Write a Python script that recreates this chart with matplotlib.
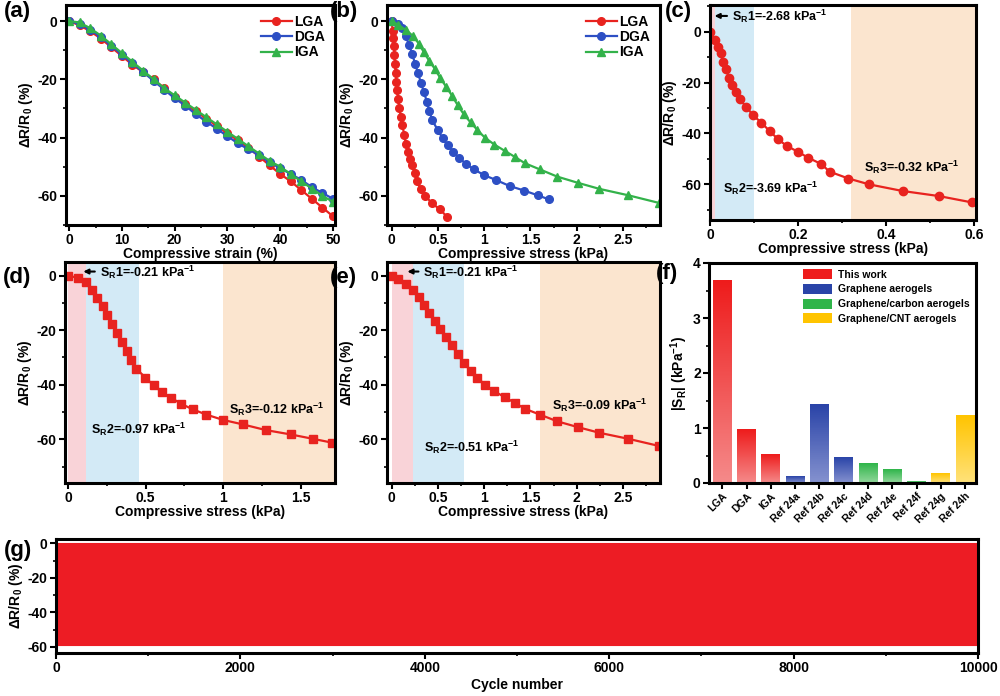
import numpy as np
import matplotlib
matplotlib.use("Agg")
import matplotlib.pyplot as plt
from matplotlib.colors import LinearSegmentedColormap
from matplotlib.patches import Patch
from matplotlib.ticker import MultipleLocator

plt.rcParams['font.family'] = ['Liberation Sans', 'DejaVu Sans']
plt.rcParams['font.weight'] = 'bold'
plt.rcParams['axes.labelweight'] = 'bold'
plt.rcParams['axes.unicode_minus'] = False
plt.rcParams['font.size'] = 10
plt.rcParams['mathtext.fontset'] = 'custom'
plt.rcParams['mathtext.rm'] = 'Liberation Sans:bold'
plt.rcParams['mathtext.bf'] = 'Liberation Sans:bold'
plt.rcParams['mathtext.it'] = 'Liberation Sans:bold'
plt.rcParams['mathtext.default'] = 'bf'

RED = '#e8231f'; BLUE = '#2d4fc4'; GREEN = '#33b24a'

# (a) strain response
strain = [0, 2, 4, 6, 8, 10, 12, 14, 16, 18, 20, 22, 24, 26, 28, 30, 32, 34, 36, 38, 40, 42, 44, 46, 48, 50]
lga_strain = [0, -1.5, -3.5, -6, -9, -12, -15, -17.5, -20, -23, -26, -28.5, -31, -33.5, -36, -38.5,
              -41, -43.5, -46.5, -49.5, -52.5, -55, -58, -61, -64, -67]
dga_strain = [0, -1, -3, -5.5, -8.5, -11.5, -14.5, -17.5, -20.5, -23.5, -26.5, -29, -32, -34.5, -37,
              -39.5, -42, -44, -46, -48.5, -50.5, -52.5, -54.5, -57, -59, -61]
iga_strain = [0, -0.5, -2.5, -5, -8, -11, -14, -17, -20, -23, -25.5, -28, -30.5, -33, -35.5, -38,
              -40.5, -43, -45.5, -48, -50, -52.5, -55, -57.5, -60, -62]

# stress response (kPa, %)
lga_x = [0, 0.011, 0.019, 0.024, 0.030, 0.036, 0.043, 0.051, 0.060, 0.068, 0.083, 0.098, 0.117, 0.136,
         0.155, 0.174, 0.200, 0.223, 0.253, 0.272, 0.315, 0.362, 0.438, 0.521, 0.596]
lga_y = [0, -3.3, -5.9, -8.5, -11.8, -14.8, -18.0, -21.0, -23.6, -26.6, -29.7, -32.8, -35.8, -39.1,
         -42.3, -44.8, -47.2, -49.5, -52.0, -55.0, -57.7, -60.0, -62.6, -64.6, -67.1]
dga_x = [0, 0.066, 0.115, 0.152, 0.188, 0.222, 0.252, 0.286, 0.316, 0.35, 0.38, 0.408, 0.44, 0.498,
         0.551, 0.605, 0.665, 0.729, 0.803, 0.889, 1.0, 1.124, 1.274, 1.434, 1.577, 1.70]
dga_y = [0, -0.85, -2.3, -5.1, -8.2, -11.2, -14.6, -17.9, -21.2, -24.4, -27.7, -31.0, -34.1, -37.4,
         -40.2, -42.7, -44.8, -47.0, -49.0, -50.9, -52.9, -54.5, -56.6, -58.2, -59.8, -61.2]
iga_x = [0, 0.066, 0.15, 0.23, 0.297, 0.348, 0.407, 0.469, 0.524, 0.59, 0.652, 0.714, 0.78, 0.853,
         0.927, 1.007, 1.11, 1.22, 1.33, 1.44, 1.60, 1.79, 2.01, 2.245, 2.557, 2.886]
iga_y = [0, -1.2, -3.0, -5.1, -7.9, -10.7, -13.7, -16.5, -19.5, -22.6, -25.6, -28.9, -32.0, -34.8,
         -37.4, -40.0, -42.4, -44.5, -46.6, -48.8, -50.9, -53.4, -55.5, -57.6, -59.8, -62.4]

# (f) sensitivity comparison
bar_labels = ['LGA', 'DGA', 'IGA', 'Ref 24a', 'Ref 24b', 'Ref 24c', 'Ref 24d', 'Ref 24e', 'Ref 24f', 'Ref 24g', 'Ref 24h']
bar_values = [3.69, 0.97, 0.51, 0.12, 1.43, 0.46, 0.35, 0.25, 0.02, 0.17, 1.22]
bar_group = [0, 0, 0, 1, 1, 1, 2, 2, 2, 3, 3]
group_names = ['This work', 'Graphene aerogels', 'Graphene/carbon aerogels', 'Graphene/CNT aerogels']
group_top = ['#ee1c1c', '#2a44a8', '#2fb54a', '#ffc400']
group_bot = ['#f58a8a', '#8592cf', '#93d79c', '#ffe27a']

# (g) cycling
cycles = [0, 10000]
cyc_hi = [0, 0]
cyc_lo = [-59, -59]

W, H = 1000, 696
fig = plt.figure(figsize=(W / 100, H / 100), dpi=100)


def make_ax(l, t, r, b):
    ax = fig.add_axes([l / W, 1 - b / H, (r - l) / W, (b - t) / H])
    for s in ax.spines.values():
        s.set_linewidth(2.2)
    ax.tick_params(which='major', direction='out', length=4, width=1.5, labelsize=10, pad=2)
    ax.tick_params(which='minor', direction='out', length=2.5, width=1.2)
    return ax


def boldticks(ax):
    for t in ax.get_xticklabels() + ax.get_yticklabels():
        t.set_fontweight('bold')


def ylab(ax):
    ax.set_ylabel(r'ΔR/R$_0$ (%)', labelpad=2, fontweight='bold')


def panel(ax, txt, dx=-0.2, dy=0.97):
    ax.text(dx, dy, txt, transform=ax.transAxes, fontsize=16, fontweight='bold', va='center', ha='left')


def curve(ax, x, y, c, m, lab=None, ms=5.5):
    ax.plot(x, y, color=c, marker=m, markersize=ms, lw=1.6, label=lab)


def fmt(v, p):
    return f'{v:g}'


# (a)
ax = make_ax(66, 5, 335, 225)
curve(ax, strain, lga_strain, RED, 'o', 'LGA')
curve(ax, strain, dga_strain, BLUE, 'o', 'DGA')
curve(ax, strain, iga_strain, GREEN, '^', 'IGA')
ax.set_xlim(-0.6, 50.4); ax.set_ylim(-70, 5.5)
ax.xaxis.set_major_locator(MultipleLocator(10)); ax.xaxis.set_minor_locator(MultipleLocator(5))
ax.yaxis.set_major_locator(MultipleLocator(20)); ax.yaxis.set_minor_locator(MultipleLocator(10))
ax.set_xlabel('Compressive strain (%)', labelpad=0, fontweight='bold')
ylab(ax)
ax.legend(loc='upper right', frameon=False, fontsize=10, handlelength=2.2, handletextpad=0.2,
          labelspacing=0.1, borderaxespad=0.3)
panel(ax, '(a)', -0.23)
boldticks(ax)

# (b)
ax = make_ax(387, 5, 660, 225)
curve(ax, lga_x, lga_y, RED, 'o', 'LGA')
curve(ax, dga_x, dga_y, BLUE, 'o', 'DGA')
curve(ax, iga_x, iga_y, GREEN, '^', 'IGA')
ax.set_xlim(-0.05, 2.9); ax.set_ylim(-70, 5.5)
ax.xaxis.set_major_locator(MultipleLocator(0.5)); ax.xaxis.set_minor_locator(MultipleLocator(0.25))
ax.xaxis.set_major_formatter(plt.FuncFormatter(fmt))
ax.yaxis.set_major_locator(MultipleLocator(20)); ax.yaxis.set_minor_locator(MultipleLocator(10))
ax.set_xlabel('Compressive stress (kPa)', labelpad=0, fontweight='bold')
ylab(ax)
ax.legend(loc='upper right', frameon=False, fontsize=10, handlelength=2.2, handletextpad=0.2,
          labelspacing=0.1, borderaxespad=0.3)
panel(ax, '(b)', -0.21)
boldticks(ax)


def regions(ax, r1, r2, r3, xmax):
    ax.axvspan(0, r1, color='#f9d3d8', lw=0, zorder=0)
    ax.axvspan(r1, r2, color='#d3eaf6', lw=0, zorder=0)
    ax.axvspan(r3, xmax, color='#fbe5cf', lw=0, zorder=0)


def note(ax, x, y, num, val):
    ax.text(x, y, r'S$_R$' + f'{num}=-{val} kPa' + r'$^{-1}$', fontsize=9, fontweight='bold', va='center')


def arrow(ax, x0, x1, y):
    ax.annotate('', xy=(x1, y), xytext=(x0, y),
                arrowprops=dict(arrowstyle='-|>', color='black', lw=1.5, mutation_scale=7))


# (c)
ax = make_ax(710, 5, 976, 220)
regions(ax, 0.012, 0.1, 0.32, 0.605)
curve(ax, lga_x, lga_y, RED, 'o', ms=6)
ax.set_xlim(0, 0.605); ax.set_ylim(-74, 10.5)
ax.xaxis.set_major_locator(MultipleLocator(0.2)); ax.xaxis.set_minor_locator(MultipleLocator(0.1))
ax.xaxis.set_major_formatter(plt.FuncFormatter(fmt))
ax.yaxis.set_major_locator(MultipleLocator(20)); ax.yaxis.set_minor_locator(MultipleLocator(10))
ax.set_xlabel('Compressive stress (kPa)', labelpad=0, fontweight='bold')
ylab(ax)
arrow(ax, 0.045, 0.004, 6.2)
note(ax, 0.05, 6.2, 1, '2.68')
note(ax, 0.03, -61.5, 2, '3.69')
note(ax, 0.35, -53.5, 3, '0.32')
panel(ax, '(c)', -0.17)
boldticks(ax)

# (d)
ax = make_ax(65, 262, 335, 483)
regions(ax, 0.115, 0.46, 1.0, 1.72)
curve(ax, dga_x, dga_y, RED, 's', ms=5.5)
ax.set_xlim(-0.02, 1.72); ax.set_ylim(-76, 5)
ax.xaxis.set_major_locator(MultipleLocator(0.5)); ax.xaxis.set_minor_locator(MultipleLocator(0.25))
ax.xaxis.set_major_formatter(plt.FuncFormatter(fmt))
ax.yaxis.set_major_locator(MultipleLocator(20)); ax.yaxis.set_minor_locator(MultipleLocator(10))
ax.set_xlabel('Compressive stress (kPa)', labelpad=0, fontweight='bold')
ylab(ax)
arrow(ax, 0.19, 0.08, 1.5)
note(ax, 0.205, 1.3, 1, '0.21')
note(ax, 0.15, -56.5, 2, '0.97')
note(ax, 1.04, -49, 3, '0.12')
panel(ax, '(d)', -0.23, 0.93)
boldticks(ax)

# (e)
ax = make_ax(387, 262, 660, 483)
regions(ax, 0.23, 0.78, 1.6, 2.9)
curve(ax, iga_x, iga_y, RED, 's', ms=5.5)
ax.set_xlim(-0.05, 2.9); ax.set_ylim(-76, 5)
ax.xaxis.set_major_locator(MultipleLocator(0.5)); ax.xaxis.set_minor_locator(MultipleLocator(0.25))
ax.xaxis.set_major_formatter(plt.FuncFormatter(fmt))
ax.yaxis.set_major_locator(MultipleLocator(20)); ax.yaxis.set_minor_locator(MultipleLocator(10))
ax.set_xlabel('Compressive stress (kPa)', labelpad=0, fontweight='bold')
ylab(ax)
arrow(ax, 0.32, 0.14, 1.5)
note(ax, 0.34, 1.3, 1, '0.21')
note(ax, 0.35, -63, 2, '0.51')
note(ax, 1.73, -47.5, 3, '0.09')
panel(ax, '(e)', -0.21, 0.93)
boldticks(ax)

# (f)
ax = make_ax(709, 263, 976, 483)
bw = 0.78
grad = np.linspace(0, 1, 100).reshape(-1, 1)
for i, (v, g) in enumerate(zip(bar_values, bar_group)):
    cmap = LinearSegmentedColormap.from_list('g%d' % g, [group_bot[g], group_top[g]])
    ax.imshow(grad, extent=[i - bw / 2, i + bw / 2, 0, v], origin='lower', cmap=cmap,
              aspect='auto', zorder=2)
ax.set_xlim(-0.55, 10.45); ax.set_ylim(0, 4)
ax.set_xticks(range(len(bar_labels)))
ax.set_xticklabels(bar_labels, rotation=45, ha='right', fontsize=7.5, rotation_mode='anchor')
ax.yaxis.set_major_locator(MultipleLocator(1)); ax.yaxis.set_minor_locator(MultipleLocator(0.5))
ax.set_ylabel(r'|S$_R$| (kPa$^{-1}$)', labelpad=2, fontweight='bold')
handles = [Patch(facecolor=c, edgecolor='none') for c in group_top]
ax.legend(handles, group_names, loc='upper right', frameon=False, fontsize=7.5, handlelength=2.8,
          handleheight=1.1, labelspacing=0.4, borderaxespad=0.2, handletextpad=0.6)
panel(ax, '(f)', -0.2, 0.95)
boldticks(ax)

# (g)
ax = make_ax(56, 539, 978, 653)
ax.fill_between(cycles, cyc_lo, cyc_hi, color='#ed1c24', lw=0.8, edgecolor='#ed1c24')
ax.set_xlim(0, 10000); ax.set_ylim(-63.5, 2.5)
ax.xaxis.set_major_locator(MultipleLocator(2000)); ax.xaxis.set_minor_locator(MultipleLocator(1000))
ax.yaxis.set_major_locator(MultipleLocator(20)); ax.yaxis.set_minor_locator(MultipleLocator(10))
ax.set_xlabel('Cycle number', labelpad=2, fontweight='bold')
ylab(ax)
panel(ax, '(g)', -0.056, 0.9)
boldticks(ax)

fig.savefig('out.png', dpi=100)
